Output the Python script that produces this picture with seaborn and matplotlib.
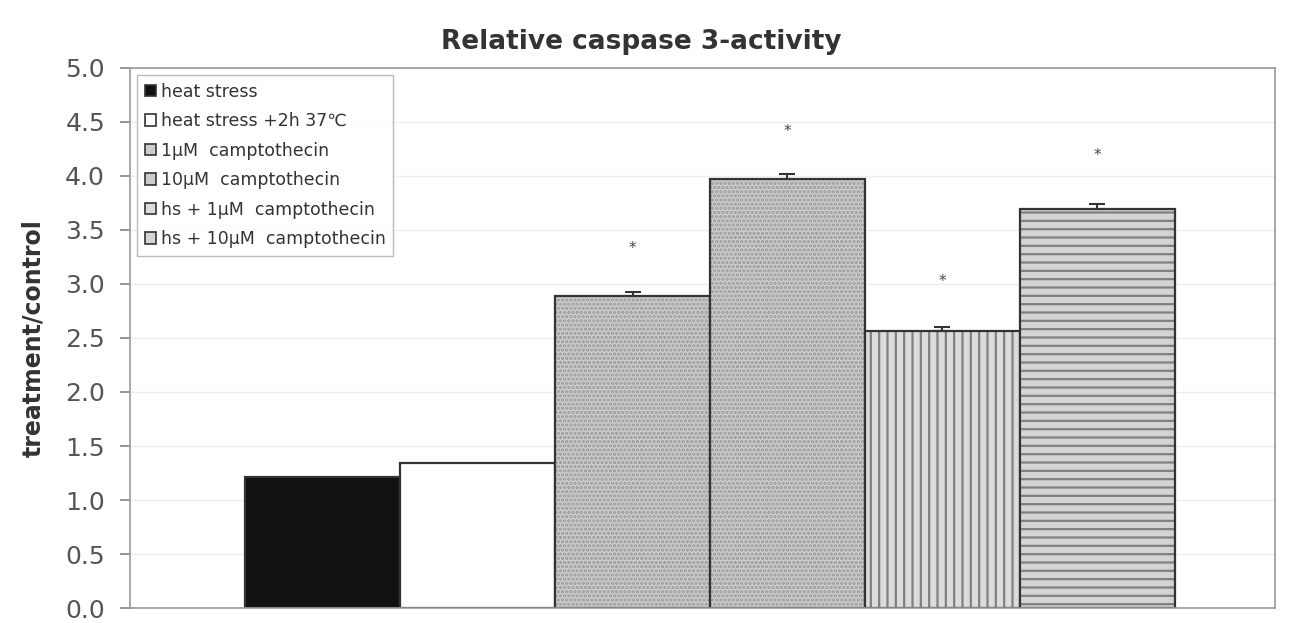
import matplotlib
matplotlib.use("Agg")
import matplotlib.pyplot as plt
import matplotlib.colors as mcolors
import seaborn as sns
import pandas as pd

conditions = ["heat stress", "heat stress +2h 37\u2103", "1\u03bcM  camptothecin",
              "10\u03bcM  camptothecin", "hs + 1\u03bcM  camptothecin", "hs + 10\u03bcM  camptothecin"]
values = [1.21, 1.34, 2.89, 3.97, 2.56, 3.69]
errors = [0.0, 0.0, 0.04, 0.05, 0.04, 0.05]
star_y = [None, None, 3.33, 4.41, 3.02, 4.19]
yticks = [0.0, 0.5, 1.0, 1.5, 2.0, 2.5, 3.0, 3.5, 4.0, 4.5, 5.0]

facecolors = ["#111111", "#ffffff", "#cccccc", "#cccccc", "#dcdcdc", "#d4d4d4"]
hatches = [None, None, "....", "....", "||", "--"]
hatch_colors = [None, None, "#999999", "#999999", "#808080", "#808080"]

sns.set_theme(style="white")
plt.rcParams["font.family"] = ["DejaVu Sans"]
plt.rcParams["hatch.linewidth"] = 1.6

df = pd.DataFrame({"grp": ["all"] * len(values), "cond": conditions, "val": values})

fig = plt.figure(figsize=(12.91, 6.23), dpi=100)
ax = fig.add_axes([0.1007, 0.024, 0.887, 0.867])

sns.barplot(data=df, x="grp", y="val", hue="cond", hue_order=conditions,
            palette=facecolors, width=0.812, errorbar=None, ax=ax, legend=True,
            saturation=1, gap=0)

bars = [p for p in ax.patches if p.get_height() > 0][:len(values)]
for p, fc, h, hc in zip(bars, facecolors, hatches, hatch_colors):
    p.set_facecolor(fc)
    p.set_edgecolor("#333333")
    p.set_linewidth(1.6)
    if h:
        p.set_hatch(h)
        p._hatch_color = mcolors.to_rgba(hc)

for p, v, e, s in zip(bars, values, errors, star_y):
    cx = p.get_x() + p.get_width() / 2
    if e > 0:
        ax.errorbar(cx, v, yerr=[[0], [e]], fmt="none", ecolor="#333333",
                    elinewidth=1.5, capsize=6, capthick=1.5)
    if s is not None:
        ax.text(cx, s, "*", ha="center", va="center", fontsize=11, color="#444444")

ax.set_ylim(0, 5.0)
ax.set_xlim(-0.5065, 0.4935)
ax.set_yticks(yticks)
ax.set_yticklabels([f"{t:.1f}" for t in yticks], fontsize=18, color="#555555")
ax.set_xticks([])
ax.set_xlabel("")
ax.set_ylabel("treatment/control", fontsize=17, fontweight="bold", color="#333333", labelpad=14)
ax.tick_params(axis="y", length=7, color="#888888", direction="out", left=True, pad=11)
ax.yaxis.grid(True, color="#eeeeee", linewidth=1)
ax.set_axisbelow(True)
for sp in ax.spines.values():
    sp.set_color("#999999")
    sp.set_linewidth(1.2)

fig.text(641 / 1291, 1 - 42 / 623, "Relative caspase 3-activity", fontsize=19,
         fontweight="bold", color="#333333", ha="center", va="center")

handles, labels = ax.get_legend_handles_labels()
for hd, fc in zip(handles, facecolors):
    hd.set_facecolor(fc)
    hd.set_edgecolor("#333333")
    hd.set_linewidth(1.2)
leg = ax.legend(handles, labels, loc="upper left", fontsize=12.5, handlelength=0.62,
                handleheight=0.62, handletextpad=0.3, labelspacing=0.66, frameon=True,
                fancybox=False, edgecolor="#aaaaaa", borderpad=0.45, borderaxespad=0,
                bbox_to_anchor=(7 / 1145, 1 - 7 / 540))
for t in leg.get_texts():
    t.set_color("#333333")

fig.savefig("out.png", dpi=100)
